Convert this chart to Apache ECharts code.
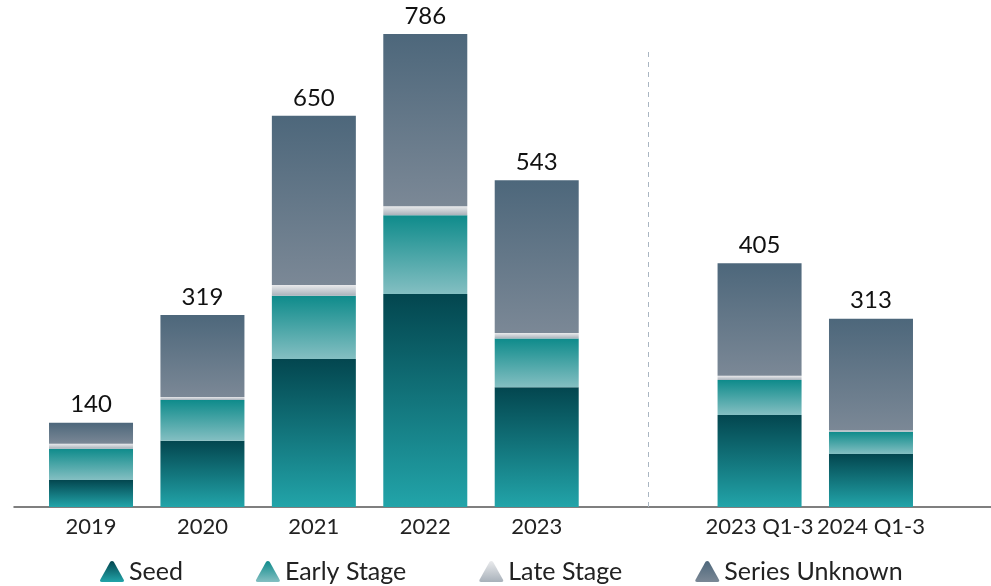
<!DOCTYPE html>
<html>
<head>
<meta charset="utf-8">
<script src="https://cdn.jsdelivr.net/npm/echarts@6/dist/echarts.min.js"></script>
<style>
  html, body { margin: 0; padding: 0; background: #ffffff; }
  #chart { width: 991px; height: 586px; }
</style>
</head>
<body>
<div id="chart"></div>
<script>
// Deal counts by funding stage; the empty category separates full years from year-to-date
const categories = ['2019', '2020', '2021', '2022', '2023', '', '2023 Q1-3', '2024 Q1-3'];
const seed       = [45, 110, 246, 354, 199, null, 153, 88];
const earlyStage = [52, 68, 105, 131, 81, null, 58, 37];
const lateStage  = [8, 5, 18, 15, 9, null, 7, 2];
const unknown    = [35, 136, 281, 286, 254, null, 187, 186];
const seriesNames = ['Seed', 'Early Stage', 'Late Stage', 'Series Unknown'];

const totals = categories.map((c, i) =>
  seed[i] == null ? null : seed[i] + earlyStage[i] + lateStage[i] + unknown[i]);

const grad = (top, bottom) => new echarts.graphic.LinearGradient(0, 0, 0, 1, [
  { offset: 0, color: top },
  { offset: 1, color: bottom }
]);

const FONT = 'Lato, "Noto Sans", sans-serif';
// triangle with softened corners for the legend markers
const ROUND_TRIANGLE = 'path://M10.3,1.2 Q12,-0.6 13.7,1.2 L23.4,18.6 Q24.6,21 22,21 L2,21 Q-0.6,21 0.6,18.6 Z';

const fills = [
  grad('#03464f', '#22a4a9'),
  grad('#0e8b8b', '#84bfc2'),
  grad('#e9eaec', '#a8b1ba'),
  grad('#4d677b', '#7b8896')
];
const dataSets = [seed, earlyStage, lateStage, unknown];

const series = dataSets.map((d, k) => ({
  name: seriesNames[k],
  type: 'bar',
  stack: 'deals',
  xAxisIndex: 0,
  yAxisIndex: 0,
  barWidth: 84,
  data: d,
  itemStyle: { color: fills[k] },
  emphasis: { disabled: true },
  label: k === 3 ? {
    show: true,
    position: 'top',
    distance: 6,
    fontFamily: FONT,
    fontSize: 24,
    color: '#111111',
    formatter: p => totals[p.dataIndex] == null ? '' : String(totals[p.dataIndex])
  } : { show: false },
  markLine: k === 0 ? {
    silent: true,
    symbol: 'none',
    label: { show: false },
    lineStyle: { type: [5, 5], color: '#aab6c2', width: 1 },
    data: [[{ xAxis: 5, yAxis: 0 }, { xAxis: 5, yAxis: 764 }]]
  } : undefined
}));

// baseline axis spanning the full width
series.push({
  type: 'line',
  xAxisIndex: 1,
  yAxisIndex: 1,
  data: [],
  silent: true
});

const chart = echarts.init(document.getElementById('chart'), null, { renderer: 'canvas' });
chart.setOption({
  animation: false,
  textStyle: { fontFamily: FONT },
  grid: [
    { left: 35.3, right: 64.3, top: 25.6, bottom: 79 },
    { left: 14, right: 0, top: 25.6, bottom: 79 }
  ],
  legend: {
    data: seriesNames,
    icon: ROUND_TRIANGLE,
    left: 95,
    top: 554,
    itemWidth: 24,
    itemHeight: 22,
    itemGap: 73,
    textStyle: { fontFamily: FONT, fontSize: 25, color: '#222222' }
  },
  xAxis: [
    {
      type: 'category',
      gridIndex: 0,
      data: categories,
      axisLine: { show: false },
      axisTick: { show: false },
      axisLabel: { fontFamily: FONT, fontSize: 22, color: '#222222', margin: 9, interval: 0 }
    },
    {
      type: 'value',
      gridIndex: 1,
      min: 0,
      max: 1,
      axisLine: { show: true, lineStyle: { color: '#555555', width: 1.5 } },
      axisTick: { show: false },
      axisLabel: { show: false },
      splitLine: { show: false }
    }
  ],
  yAxis: [
    { type: 'value', gridIndex: 0, min: 0, max: 800, show: false },
    { type: 'value', gridIndex: 1, min: 0, max: 1, show: false }
  ],
  series: series
});
</script>
</body>
</html>
